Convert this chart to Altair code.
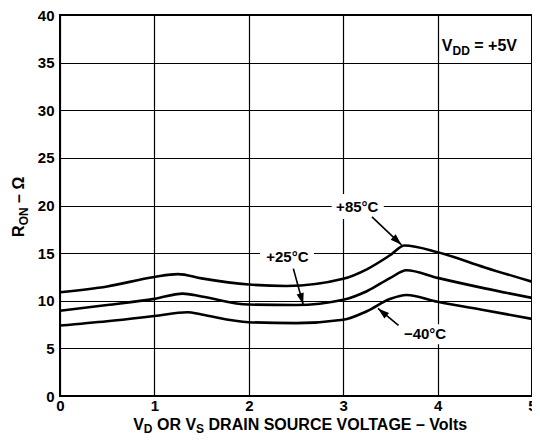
import math
import altair as alt
import pandas as pd

# ---- data ----
v85 = [0, 0.5, 1.0, 1.25, 1.5, 2.0, 2.4, 3.0, 3.25, 3.5, 3.65, 4.0, 4.5, 5.0]
r85 = [10.9, 11.5, 12.5, 12.8, 12.35, 11.7, 11.55, 12.3, 13.3, 14.8, 15.8, 15.1, 13.5, 12.0]
v25 = [0, 0.5, 1.0, 1.3, 1.5, 2.0, 2.5, 3.0, 3.25, 3.5, 3.67, 4.0, 4.5, 5.0]
r25 = [8.95, 9.55, 10.2, 10.75, 10.45, 9.6, 9.55, 10.1, 11.0, 12.4, 13.2, 12.4, 11.3, 10.3]
v40 = [0, 0.5, 1.0, 1.35, 1.5, 2.0, 2.5, 3.0, 3.25, 3.5, 3.67, 4.0, 4.5, 5.0]
r40 = [7.4, 7.85, 8.4, 8.8, 8.55, 7.75, 7.65, 8.0, 8.9, 10.2, 10.6, 9.9, 9.0, 8.1]

x_ticks = [0, 1, 2, 3, 4, 5]
y_ticks = [0, 5, 10, 15, 20, 25, 30, 35, 40]

# curve labels: text, x, y (data units)
lab_text = ["+85°C", "+25°C", "\u221240°C"]
lab_x = [3.149, 2.409, 3.867]
lab_y = [19.84, 14.62, 6.48]
# white boxes behind labels
box_x1 = [2.878, 2.118, 3.586]
box_x2 = [3.430, 2.690, 4.139]
box_y1 = [18.59, 13.47, 5.43]
box_y2 = [21.20, 15.77, 7.52]
# arrows: tail -> head (data units)
arr_tx = [3.305, 2.472, 3.586]
arr_ty = [18.80, 13.37, 7.41]
arr_hx = [3.617, 2.576, 3.368]
arr_hy = [15.87, 9.61, 9.19]

# V_DD note anchor (data units)
vdd_x, vdd_y = 4.045, 36.7

W, H = 472, 381
SX, SY = W / 5.0, H / 40.0
FONT = "Liberation Sans"

rows = []
for name, vs, rs in [("+85", v85, r85), ("+25", v25, r25), ("-40", v40, r40)]:
    for v, r in zip(vs, rs):
        rows.append({"series": name, "v": v, "r": r})
df = pd.DataFrame(rows)

xs = alt.Scale(domain=[0, 5], nice=False, zero=False)
ys = alt.Scale(domain=[0, 40], nice=False, zero=False)

lines = alt.Chart(df).mark_line(color="black", strokeWidth=2.6, interpolate="monotone").encode(
    x=alt.X("v:Q", scale=xs, axis=alt.Axis(values=x_ticks, title=None, labelFlush=False,
                                           labelOverlap=False, labelPadding=2, format="d")),
    y=alt.Y("r:Q", scale=ys, axis=alt.Axis(values=y_ticks, title=None, labelPadding=6,
                                           labelOverlap=False, format="d")),
    detail="series:N",
)

boxes_df = pd.DataFrame({"x1": box_x1, "x2": box_x2, "y1": box_y1, "y2": box_y2})
boxes = alt.Chart(boxes_df).mark_rect(color="white").encode(
    x=alt.X("x1:Q", scale=xs), x2="x2:Q", y=alt.Y("y1:Q", scale=ys), y2="y2:Q"
)

angles = []
for tx, ty, hx, hy in zip(arr_tx, arr_ty, arr_hx, arr_hy):
    dxp = (hx - tx) * SX
    dyp = -(hy - ty) * SY
    angles.append(math.degrees(math.atan2(dxp, -dyp)) % 360)
arr_df = pd.DataFrame({"tx": arr_tx, "ty": arr_ty, "hx": arr_hx, "hy": arr_hy, "ang": angles})
shafts = alt.Chart(arr_df).mark_rule(color="black", strokeWidth=1.6).encode(
    x=alt.X("tx:Q", scale=xs), y=alt.Y("ty:Q", scale=ys), x2="hx:Q", y2="hy:Q"
)
heads = alt.Chart(arr_df).mark_point(
    shape="M0,0L0.32,1L-0.32,1Z", filled=True, color="black", opacity=1, size=520, strokeWidth=0
).encode(
    x=alt.X("hx:Q", scale=xs), y=alt.Y("hy:Q", scale=ys), angle=alt.Angle("ang:Q", scale=None)
)

lab_df = pd.DataFrame({"t": lab_text, "x": lab_x, "y": lab_y})
labels = alt.Chart(lab_df).mark_text(
    font=FONT, fontWeight="bold", fontSize=15, color="black", align="center", baseline="middle"
).encode(x=alt.X("x:Q", scale=xs), y=alt.Y("y:Q", scale=ys), text="t:N")

# ---- text with subscripts, laid out piece by piece ----
AW = {" ": 278, "A": 722, "C": 722, "D": 722, "E": 667, "G": 778, "I": 278, "L": 611,
      "N": 722, "O": 778, "R": 722, "S": 667, "T": 611, "U": 722, "V": 667, "o": 611,
      "l": 278, "t": 333, "s": 556, "\u2013": 556, "=": 584, "+": 584, "5": 556, "\u03a9": 780}


def tw(s, f):
    return sum(AW.get(c, 600) for c in s) * f / 1000.0


one = alt.Data(values=[{"a": 1}])
pieces = []
PL, PT = 60, 15  # page position of the plot's top-left corner


def piece(text, px, py, size, angle=0):
    # px, py in page pixels
    return alt.Chart(one).mark_text(
        text=text, font=FONT, fontWeight="bold", fontSize=size, color="black",
        align="left", baseline="alphabetic", angle=angle
    ).encode(x=alt.value(px - PL), y=alt.value(py - PT))


F, FS, SUB = 16, 12, 4

# x-axis title
xt = [("V", F, 0), ("D", FS, SUB), (" OR V", F, 0), ("S", FS, SUB),
      (" DRAIN SOURCE VOLTAGE \u2013 Volts", F, 0)]
total = sum(tw(t, s) for t, s, _ in xt)
cx = PL + W / 2 + 6 - total / 2
for t, s, off in xt:
    lead = len(t) - len(t.lstrip(" "))
    pieces.append(piece(t.strip(" "), cx + tw(" " * lead, s), 430 + off - (1 if off else 0), s))
    cx += tw(t, s)

# y-axis title (rotated)
yt = [("R", F, 0), ("ON", FS, SUB), (" \u2013 \u03a9", F, 0)]
total = sum(tw(t, s) for t, s, _ in yt)
cy = 207 + total / 2
for t, s, off in yt:
    lead = len(t) - len(t.lstrip(" "))
    pieces.append(piece(t.strip(" "), 24 + off, cy - tw(" " * lead, s), s, angle=270))
    cy -= tw(t, s)

# V_DD annotation
vt = [("V", F, 0), ("DD", FS, SUB), (" = +5V", F, 0)]
cx = PL + vdd_x * SX
by = PT + (40 - vdd_y) * SY + 5
for t, s, off in vt:
    lead = len(t) - len(t.lstrip(" "))
    pieces.append(piece(t.strip(" "), cx + tw(" " * lead, s), by + off, s))
    cx += tw(t, s)

chart = alt.layer(boxes, lines, shafts, heads, labels, *pieces).properties(
    width=W, height=H, padding={"left": 52, "top": 7, "right": 0, "bottom": 39},
    autosize=alt.AutoSizeParams(type="none"), background="white",
).configure_view(stroke="black", strokeWidth=2).configure_axis(
    grid=True, gridColor="black", gridWidth=1.2, gridOpacity=1, domain=False, ticks=False,
    labelFont=FONT, labelFontWeight="bold", labelFontSize=15, labelColor="black",
)

chart.save("out.html", embed_options={"renderer": "svg", "actions": False})
